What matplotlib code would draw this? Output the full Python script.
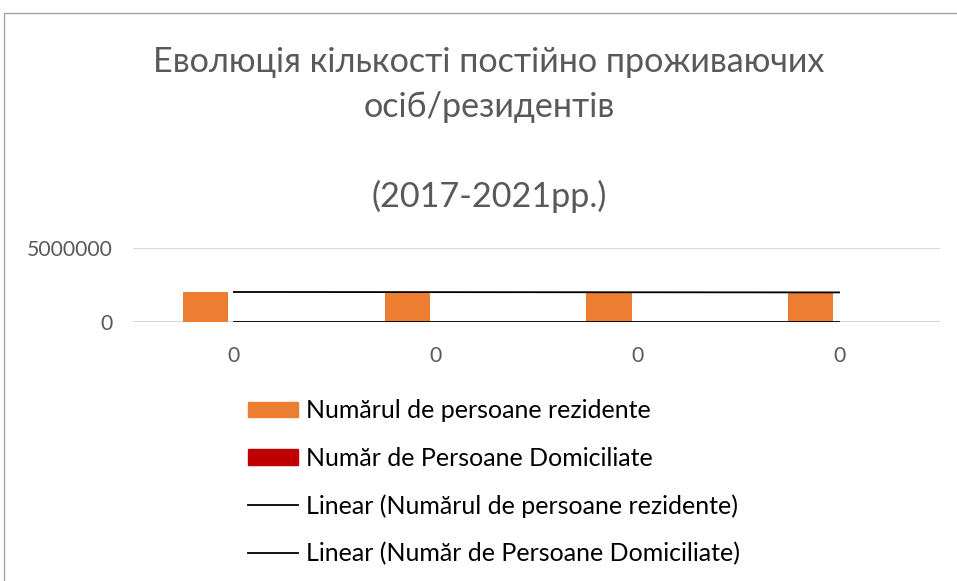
import numpy as np
import matplotlib
matplotlib.use("Agg")
import matplotlib.pyplot as plt
from matplotlib.patches import Rectangle, Patch
from matplotlib.lines import Line2D

plt.rcParams['font.family'] = ['Lato', 'Open Sans', 'DejaVu Sans']

# data
categories = ["0", "0", "0", "0"]
rezidente = [2030000, 2015000, 2010000, 2000000]
domiciliate = [0, 0, 0, 0]
series_names = ["Numărul de persoane rezidente", "Număr de Persoane Domiciliate"]
title_lines = ["Еволюція кількості постійно проживаючих", "осіб/резидентів", "(2017-2021рр.)"]
yticks = [0, 5000000]

orange = "#ed7d31"
red = "#c00000"
grey_txt = "#595959"

W, H = 957, 581
fig = plt.figure(figsize=(W / 100, H / 100), dpi=100)

# chart-area border (runs off the right/bottom edge)
fig.patches.append(Rectangle((4 / W, -0.1), 1.1, 1 - 13 / H + 0.1, transform=fig.transFigure,
                             fill=False, edgecolor="#a6a6a6", lw=1))

ax = fig.add_axes([133 / W, 1 - 322 / H, (940 - 133) / W, 74 / H])
x = np.arange(len(categories))
bw = 0.2245
off = 0.141
ax.bar(x - off, rezidente, bw, color=orange, zorder=3)
ax.bar(x + off, domiciliate, bw, color=red, lw=0, zorder=3)

# linear trendlines
for vals in (rezidente, domiciliate):
    k, b = np.polyfit(x, vals, 1)
    ax.plot(x, k * x + b, color="black", lw=1.3, zorder=4)

ax.set_xlim(-0.5, len(categories) - 0.5)
ax.set_ylim(0, 5000000)
ax.set_yticks(yticks)
ax.set_yticklabels([str(v) for v in yticks])
ax.set_xticks(x)
ax.set_xticklabels(categories)
ax.grid(axis="y", color="#d9d9d9", lw=1.5, zorder=0)
ax.set_axisbelow(True)
for s in ax.spines.values():
    s.set_visible(False)
ax.tick_params(length=0, labelsize=15.2, labelcolor=grey_txt)
ax.tick_params(axis="x", pad=17)
ax.tick_params(axis="y", pad=15)

# title
for txt, yb in zip(title_lines, [72, 117, 207]):
    fig.text(489 / W, 1 - yb / H, txt, ha="center", va="baseline",
             fontsize=24.6, color=grey_txt)

handles = [Patch(color=orange), Patch(color=red),
           Line2D([], [], color="black", lw=1.3), Line2D([], [], color="black", lw=1.3)]
labels = series_names + ["Linear (" + n + ")" for n in series_names]
fig.legend(handles, labels, loc="upper left", bbox_to_anchor=(225 / W, 1 - 377 / H),
           frameon=False, fontsize=18, handlelength=2.0, handleheight=0.58,
           handletextpad=0.32, labelspacing=0.97, labelcolor="black")

fig.savefig("out.png", dpi=100)
